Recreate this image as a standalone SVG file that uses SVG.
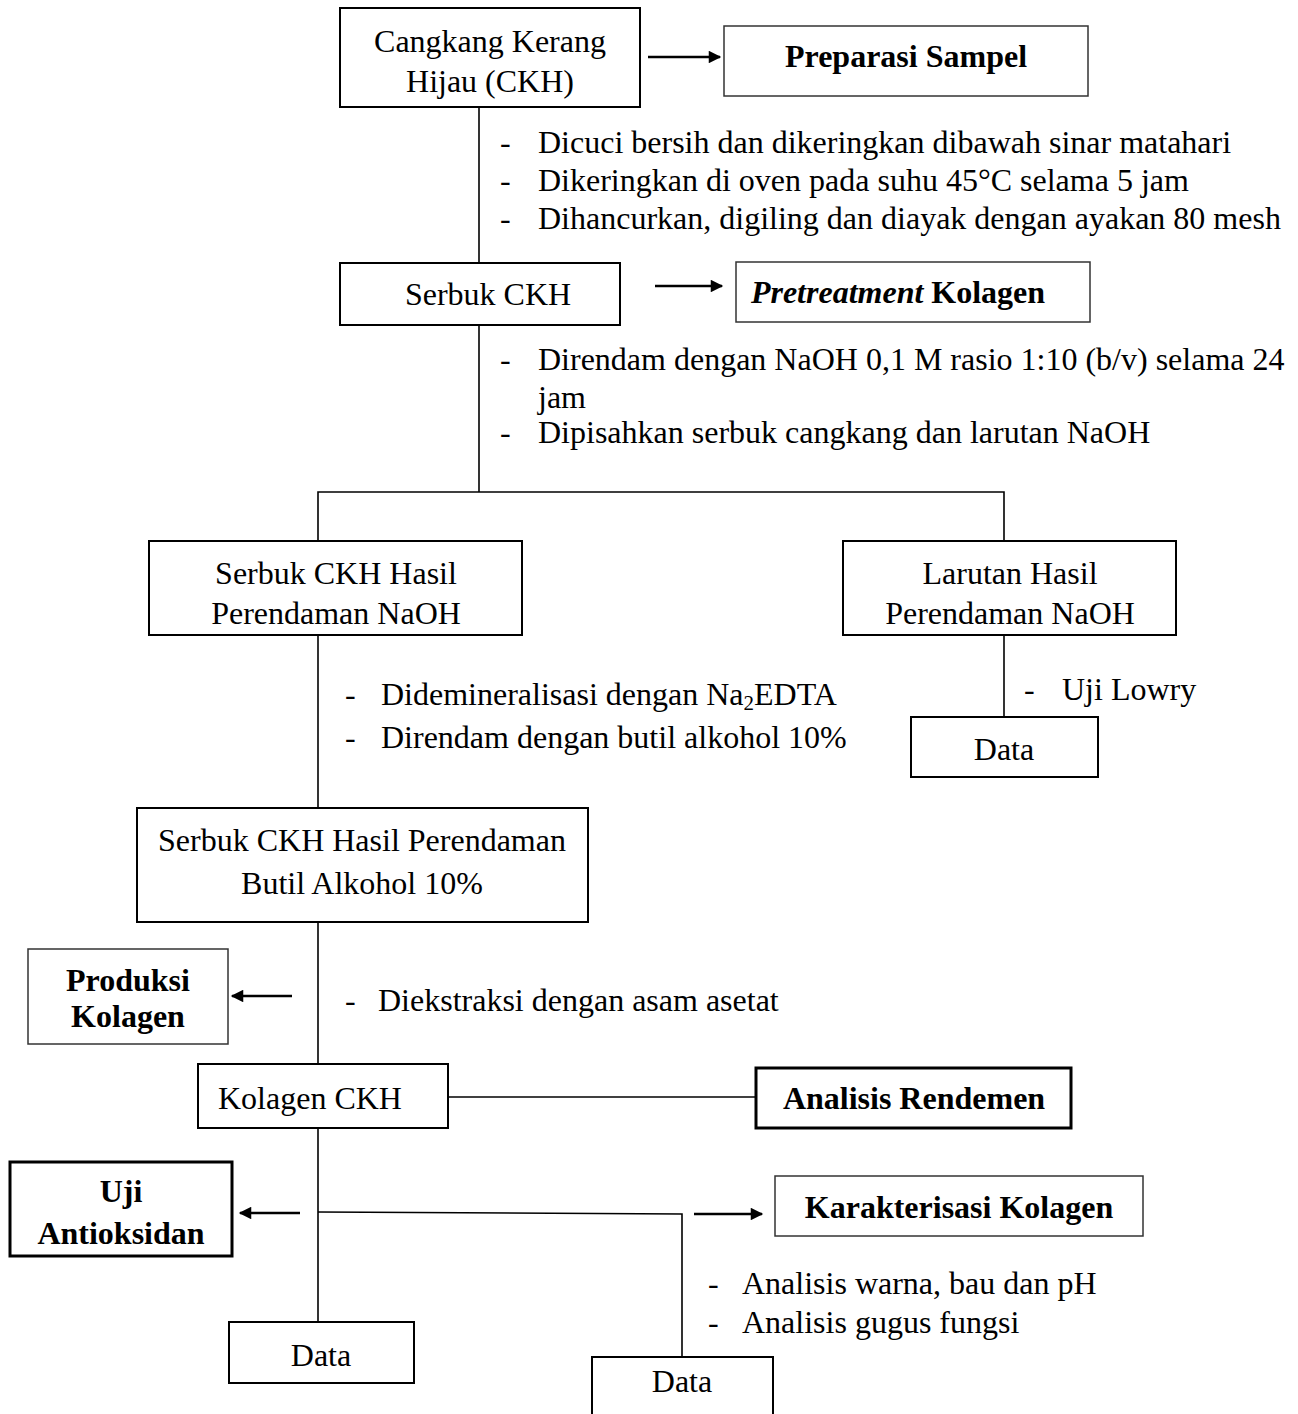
<svg xmlns="http://www.w3.org/2000/svg" width="1298" height="1414" viewBox="0 0 1298 1414">
<style>
text{font-family:"Liberation Serif","Times New Roman",serif;font-size:32px;fill:#000}
.c{text-anchor:middle}
.b{font-weight:bold}
.box{fill:#fff;stroke:#000;stroke-width:2}
.thin{fill:#fff;stroke:#333;stroke-width:1.5}
.thick{fill:#fff;stroke:#000;stroke-width:3}
.ln{stroke:#000;stroke-width:1.6;fill:none}
.ar{stroke:#000;stroke-width:2.5;fill:none;marker-end:url(#ah)}
</style>
<defs>
<marker id="ah" viewBox="0 0 10 10" refX="9" refY="5" markerWidth="5.5" markerHeight="5" orient="auto" markerUnits="strokeWidth">
<path d="M0,0 L10,5 L0,10 z" fill="#000"/>
</marker>
</defs>
<rect width="1298" height="1414" fill="#fff"/>
<g id="connectors">
<line class="ln" x1="479" y1="107" x2="479" y2="263"/>
<line class="ln" x1="479" y1="325" x2="479" y2="492"/>
<polyline class="ln" points="318,541 318,492 1004,492 1004,541"/>
<line class="ln" x1="1004" y1="635" x2="1004" y2="717"/>
<line class="ln" x1="318" y1="635" x2="318" y2="808"/>
<line class="ln" x1="318" y1="922" x2="318" y2="1064"/>
<line class="ln" x1="448" y1="1097" x2="756" y2="1097"/>
<line class="ln" x1="318" y1="1128" x2="318" y2="1322"/>
<polyline class="ln" points="318,1212 682,1214 682,1357"/>
<line class="ar" x1="648" y1="57" x2="720" y2="57"/>
<line class="ar" x1="655" y1="286" x2="722" y2="286"/>
<line class="ar" x1="292" y1="996" x2="232" y2="996"/>
<line class="ar" x1="300" y1="1213" x2="240" y2="1213"/>
<line class="ar" x1="694" y1="1214" x2="762" y2="1214"/>
</g>
<g id="n1"><rect class="box" x="340" y="8" width="300" height="99"/><text class="c" x="490" y="52">Cangkang Kerang</text><text class="c" x="490" y="92">Hijau (CKH)</text></g>
<g id="n2"><rect class="thin" x="724" y="26" width="364" height="70"/><text class="c b" x="906" y="67">Preparasi Sampel</text></g>
<g id="t1">
<text x="500" y="153">-</text><text x="538" y="153">Dicuci bersih dan dikeringkan dibawah sinar matahari</text>
<text x="500" y="191">-</text><text x="538" y="191">Dikeringkan di oven pada suhu 45°C selama 5 jam</text>
<text x="500" y="229">-</text><text x="538" y="229">Dihancurkan, digiling dan diayak dengan ayakan 80 mesh</text>
</g>
<g id="n3"><rect class="box" x="340" y="263" width="280" height="62"/><text class="c" x="488" y="305">Serbuk CKH</text></g>
<g id="n4"><rect class="thin" x="736" y="262" width="354" height="60"/><text class="c" x="898" y="303"><tspan font-style="italic" font-weight="bold">Pretreatment</tspan><tspan font-weight="bold"> Kolagen</tspan></text></g>
<g id="t2">
<text x="500" y="370">-</text><text x="538" y="370">Direndam dengan NaOH 0,1 M rasio 1:10 (b/v) selama 24</text>
<text x="538" y="408">jam</text>
<text x="500" y="443">-</text><text x="538" y="443">Dipisahkan serbuk cangkang dan larutan NaOH</text>
</g>
<g id="n5"><rect class="box" x="149" y="541" width="373" height="94"/><text class="c" x="336" y="584">Serbuk CKH Hasil</text><text class="c" x="336" y="624">Perendaman NaOH</text></g>
<g id="n6"><rect class="box" x="843" y="541" width="333" height="94"/><text class="c" x="1010" y="584">Larutan Hasil</text><text class="c" x="1010" y="624">Perendaman NaOH</text></g>
<g id="t3"><text x="1024" y="700">-</text><text x="1062" y="700">Uji Lowry</text></g>
<g id="n7"><rect class="box" x="911" y="717" width="187" height="60"/><text class="c" x="1004" y="760">Data</text></g>
<g id="t4">
<text x="345" y="705">-</text><text x="381" y="705">Didemineralisasi dengan Na<tspan font-size="21" dy="5">2</tspan><tspan dy="-5">EDTA</tspan></text>
<text x="345" y="748">-</text><text x="381" y="748">Direndam dengan butil alkohol 10%</text>
</g>
<g id="n8"><rect class="box" x="137" y="808" width="451" height="114"/><text class="c" x="362" y="851">Serbuk CKH Hasil Perendaman</text><text class="c" x="362" y="894">Butil Alkohol 10%</text></g>
<g id="n9"><rect class="thin" x="28" y="949" width="200" height="95"/><text class="c b" x="128" y="991">Produksi</text><text class="c b" x="128" y="1027">Kolagen</text></g>
<g id="t5"><text x="345" y="1011">-</text><text x="378" y="1011">Diekstraksi dengan asam asetat</text></g>
<g id="n10"><rect class="box" x="198" y="1064" width="250" height="64"/><text x="218" y="1109">Kolagen CKH</text></g>
<g id="n11"><rect class="thick" x="756" y="1068" width="315" height="60"/><text class="c b" x="914" y="1109">Analisis Rendemen</text></g>
<g id="n12"><rect class="thick" x="10" y="1162" width="222" height="94"/><text class="c b" x="121" y="1202">Uji</text><text class="c b" x="121" y="1244">Antioksidan</text></g>
<g id="n13"><rect class="thin" x="775" y="1176" width="368" height="60"/><text class="c b" x="959" y="1218">Karakterisasi Kolagen</text></g>
<g id="t6">
<text x="708" y="1294">-</text><text x="742" y="1294">Analisis warna, bau dan pH</text>
<text x="708" y="1333">-</text><text x="742" y="1333">Analisis gugus fungsi</text>
</g>
<g id="n14"><rect class="box" x="229" y="1322" width="185" height="61"/><text class="c" x="321" y="1366">Data</text></g>
<g id="n15"><rect class="box" x="592" y="1357" width="181" height="70"/><text class="c" x="682" y="1392">Data</text></g>
</svg>
